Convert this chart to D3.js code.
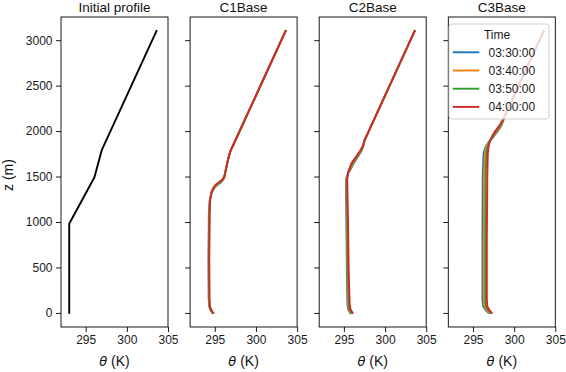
<!DOCTYPE html>
<html><head><meta charset="utf-8">
<script src="https://cdn.jsdelivr.net/npm/d3@7"></script>
<style>
body{margin:0;background:#fff;}
svg{display:block;font-family:"Liberation Sans",Arial,Helvetica,sans-serif;}
</style></head>
<body><svg id="chart" width="566" height="372"></svg>
<script>
// ---------- data ----------
const panelTitles = ["Initial profile", "C1Base", "C2Base", "C3Base"];
const timeLabels = ["03:30:00", "03:40:00", "03:50:00", "04:00:00"];
const timeColors = ["#1f77b4", "#ff7f0e", "#2ca02c", "#d62728"];
const xTicks = [295, 300, 305];
const yTicks = [0, 500, 1000, 1500, 2000, 2500, 3000];

const initZ = [0, 980, 1490, 1790, 3100];
const initTheta = [293.0, 293.0, 296.05, 296.95, 303.6];

const c1Z = [0, 30, 70, 150, 600, 1100, 1250, 1330, 1380, 1410, 1440, 1470, 1500, 1560, 1650, 1720, 1790, 1850, 3100];
const c1T0330 = [294.72, 294.48, 294.32, 294.26, 294.23, 294.28, 294.39, 294.65, 295.0, 295.35, 295.8, 296.06, 296.19, 296.31, 296.52, 296.7, 296.95, 297.26, 303.6];
const c1T0340 = [294.75, 294.52, 294.35, 294.29, 294.26, 294.31, 294.41, 294.63, 294.95, 295.28, 295.72, 296.03, 296.18, 296.3, 296.52, 296.7, 296.95, 297.26, 303.6];
const c1T0350 = [294.78, 294.55, 294.38, 294.32, 294.29, 294.34, 294.43, 294.62, 294.9, 295.2, 295.65, 296.0, 296.17, 296.3, 296.52, 296.7, 296.95, 297.26, 303.6];
const c1T0400 = [294.82, 294.6, 294.42, 294.36, 294.33, 294.38, 294.45, 294.6, 294.85, 295.1, 295.55, 295.95, 296.15, 296.3, 296.52, 296.7, 296.93, 297.26, 303.6];

const c2Z = [0, 40, 100, 400, 1000, 1400, 1480, 1540, 1600, 1650, 1720, 1780, 1830, 1900, 3100];
const c2T0330 = [295.75, 295.52, 295.43, 295.37, 295.3, 295.25, 295.3, 295.55, 295.95, 296.22, 296.72, 297.12, 297.34, 297.52, 303.6];
const c2T0340 = [295.85, 295.62, 295.52, 295.45, 295.37, 295.31, 295.33, 295.52, 295.88, 296.14, 296.65, 297.07, 297.32, 297.52, 303.6];
const c2T0350 = [295.95, 295.7, 295.6, 295.52, 295.43, 295.36, 295.37, 295.5, 295.8, 296.05, 296.58, 297.02, 297.3, 297.52, 303.6];
const c2T0400 = [296.05, 295.8, 295.7, 295.6, 295.5, 295.42, 295.42, 295.5, 295.72, 295.95, 296.5, 296.95, 297.27, 297.52, 303.6];

const c3Z = [0, 30, 70, 150, 800, 1500, 1750, 1820, 1880, 1940, 2000, 2060, 2120, 2200, 3100];
const c3T0330 = [296.88, 296.55, 296.25, 296.15, 296.15, 296.18, 296.28, 296.5, 296.9, 297.52, 298.02, 298.45, 298.7, 299.03, 303.6];
const c3T0340 = [297.0, 296.7, 296.4, 296.31, 296.31, 296.34, 296.44, 296.62, 296.95, 297.45, 297.92, 298.38, 298.68, 299.03, 303.6];
const c3T0350 = [297.15, 296.85, 296.57, 296.49, 296.49, 296.54, 296.62, 296.75, 296.98, 297.38, 297.82, 298.3, 298.65, 299.03, 303.6];
const c3T0400 = [297.27, 297.0, 296.75, 296.68, 296.68, 296.74, 296.8, 296.88, 297.02, 297.3, 297.7, 298.2, 298.6, 299.03, 303.6];

// ---------- layout ----------
const svg = d3.select("#chart");
const panelLefts = [61, 190.1, 319.2, 448.3];
const pw = 107, pTop = 17, pBottom = 327;

const y = d3.scaleLinear().domain([-155, 3255]).range([pBottom, pTop]);
const xRange = d3.scaleLinear().domain([292, 305]);

const panels = [
  {z: initZ, series: [{t: initTheta, c: "#000000"}]},
  {z: c1Z, series: [c1T0330, c1T0340, c1T0350, c1T0400].map((t, i) => ({t, c: timeColors[i]}))},
  {z: c2Z, series: [c2T0330, c2T0340, c2T0350, c2T0400].map((t, i) => ({t, c: timeColors[i]}))},
  {z: c3Z, series: [c3T0330, c3T0340, c3T0350, c3T0400].map((t, i) => ({t, c: timeColors[i]}))}
];

panels.forEach((p, pi) => {
  const x0 = panelLefts[pi];
  const x = xRange.copy().range([x0, x0 + pw]);
  const g = svg.append("g");

  const cid = "clip" + pi;
  svg.append("clipPath").attr("id", cid).append("rect")
    .attr("x", x0).attr("y", pTop).attr("width", pw).attr("height", pBottom - pTop);

  const line = d3.line().x(d => x(d[0])).y(d => y(d[1]));
  p.series.forEach(s => {
    g.append("path")
      .datum(s.t.map((v, i) => [v, p.z[i]]))
      .attr("clip-path", `url(#${cid})`)
      .attr("fill", "none").attr("stroke", s.c)
      .attr("stroke-width", 1.9).attr("stroke-linejoin", "round").attr("stroke-linecap", "square")
      .attr("d", line);
  });

  const xa = g.append("g").attr("transform", `translate(0,${pBottom})`)
    .call(d3.axisBottom(x).tickValues(xTicks).tickSize(5).tickPadding(3.5).tickFormat(d3.format("d")));
  const ya = g.append("g").attr("transform", `translate(${x0},0)`)
    .call(d3.axisLeft(y).tickValues(yTicks).tickSize(5).tickPadding(3.5)
      .tickFormat(pi === 0 ? d3.format("d") : () => ""));
  [xa, ya].forEach(a => {
    a.select(".domain").remove();
    a.selectAll(".tick line").attr("stroke", "#000").attr("stroke-width", 0.9);
    a.selectAll(".tick text").attr("font-size", 12).attr("fill", "#1a1a1a")
      .attr("font-family", "'Liberation Sans',Arial,sans-serif");
  });

  g.append("rect").attr("x", x0).attr("y", pTop).attr("width", pw).attr("height", pBottom - pTop)
    .attr("fill", "none").attr("stroke", "#000").attr("stroke-width", 0.9);

  g.append("text").attr("x", x0 + pw / 2).attr("y", 11.5).attr("text-anchor", "middle")
    .attr("font-size", 13.5).attr("fill", "#111").text(panelTitles[pi]);

  const xl = g.append("text").attr("x", x0 + pw / 2).attr("y", 365.5).attr("text-anchor", "middle")
    .attr("font-size", 14).attr("fill", "#111");
  xl.append("tspan").attr("font-style", "italic").attr("font-family", "'DejaVu Sans',sans-serif").attr("font-size", 13).text("θ");
  xl.append("tspan").text(" (K)");

  if (pi === 3) {
    const lx = 449, ly = 24, lw = 100, lh = 95;
    g.append("rect").attr("x", lx).attr("y", ly).attr("width", lw).attr("height", lh)
      .attr("rx", 3).attr("fill", "#fff").attr("fill-opacity", 0.8)
      .attr("stroke", "#cccccc").attr("stroke-width", 0.9);
    g.append("text").attr("x", lx + lw / 2 - 2).attr("y", 38.5).attr("text-anchor", "middle")
      .attr("font-size", 12).attr("fill", "#1a1a1a").text("Time");
    const ey = [52.3, 70.5, 88.7, 106.9];
    timeLabels.forEach((lab, i) => {
      g.append("line").attr("x1", 452.7).attr("x2", 479.3).attr("y1", ey[i]).attr("y2", ey[i])
        .attr("stroke", timeColors[i]).attr("stroke-width", 1.9);
      g.append("text").attr("x", 488.5).attr("y", ey[i] + 4.3)
        .attr("font-size", 12).attr("fill", "#1a1a1a").text(lab);
    });
  }
});

svg.append("text").attr("transform", "translate(12.5,175) rotate(-90)")
  .attr("text-anchor", "middle").attr("font-size", 14).attr("fill", "#111").text("z (m)");
</script>
</body></html>
